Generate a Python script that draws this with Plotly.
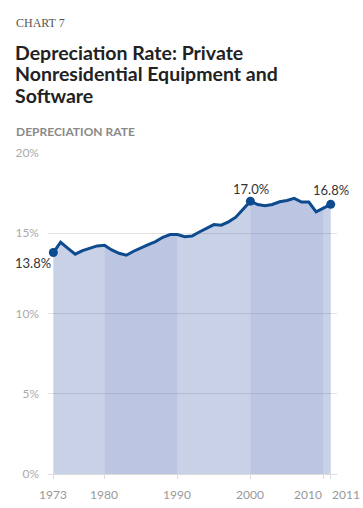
import plotly.graph_objects as go

years = list(range(1973, 2012))
rates = [13.8, 14.44, 14.06, 13.7, 13.92, 14.06, 14.21, 14.25, 13.96, 13.75,
         13.63, 13.88, 14.1, 14.29, 14.48, 14.75, 14.92, 14.92, 14.79, 14.83,
         15.08, 15.33, 15.54, 15.5, 15.71, 16.0, 16.5, 17.0, 16.79, 16.71,
         16.79, 16.96, 17.04, 17.17, 16.94, 16.94, 16.33, 16.56, 16.8]
band_edges = [1973, 1980, 1990, 2000, 2010, 2011]
x_tick_vals = [1973, 1980, 1990, 2000, 2010, 2011]
x_tick_text = ["1973", "1980", "1990", "2000", "2010", "2011"]
y_tick_vals = [0, 5, 10, 15, 20]
y_tick_text = ["0%", "5%", "10%", "15%", "20%"]
labeled_years = [1973, 2000, 2011]

W, H = 363, 508
L, R, T, B = 48, 26, 153, 34
PW, PH = W - L - R, H - T - B

def px(x):
    return (x - L) / PW

def py(y):
    return (H - B - y) / PH

light = "rgba(40,70,160,0.25)"
dark = "rgba(40,70,160,0.31)"
line_col = "#0d4b8e"

fig = go.Figure()
for i in range(len(band_edges) - 1):
    a, b = band_edges[i], band_edges[i + 1]
    xs = [y for y in years if a <= y <= b]
    ys = [rates[years.index(y)] for y in xs]
    fig.add_trace(go.Scatter(x=xs, y=ys, mode="lines", line=dict(width=0),
                             fill="tozeroy", fillcolor=light if i % 2 == 0 else dark,
                             hoverinfo="skip", showlegend=False))

fig.add_trace(go.Scatter(x=years, y=rates, mode="lines",
                         line=dict(color=line_col, width=3), showlegend=False))
mx = labeled_years
my = [rates[years.index(y)] for y in mx]
fig.add_trace(go.Scatter(x=mx, y=my, mode="markers",
                         marker=dict(color=line_col, size=9), showlegend=False))

ann = []
ann.append(dict(x=px(14), y=py(23), xref="paper", yref="paper", xanchor="left", yanchor="middle",
                text="CHART 7", showarrow=False,
                font=dict(family="Liberation Serif", size=12, color="#555")))
for txt, cy in [("Depreciation Rate: Private", 52), ("Nonresidential Equipment and", 73.5), ("Software", 95)]:
    ann.append(dict(x=px(13), y=py(cy), xref="paper", yref="paper", xanchor="left", yanchor="middle",
                    text="<b>" + txt + "</b>", showarrow=False,
                    font=dict(family="Lato", size=19.5, color="#222")))
ann.append(dict(x=px(14), y=py(131), xref="paper", yref="paper", xanchor="left", yanchor="middle",
                text="<b>DEPRECIATION RATE</b>", showarrow=False,
                font=dict(family="Lato", size=12, color="#8a8a8a")))
# value labels
ann.append(dict(x=mx[0], y=my[0], xref="x", yref="y", text=f"{my[0]:.1f}%", showarrow=False,
                xshift=-20, yshift=-10, font=dict(family="Lato", size=13, color="#333")))
ann.append(dict(x=mx[1], y=my[1], xref="x", yref="y", text=f"{my[1]:.1f}%", showarrow=False,
                xshift=1, yshift=12, font=dict(family="Lato", size=13, color="#333")))
ann.append(dict(x=mx[2], y=my[2], xref="x", yref="y", text=f"{my[2]:.1f}%", showarrow=False,
                xshift=0, yshift=14, font=dict(family="Lato", size=13, color="#333")))
# x tick labels (last two pushed apart as in the original)
anchors = ["center"] * (len(x_tick_vals) - 2) + ["right", "left"]
shifts = [0] * (len(x_tick_vals) - 2) + [1, -1]
for v, t, a, s in zip(x_tick_vals, x_tick_text, anchors, shifts):
    ann.append(dict(x=v, y=py(494), xref="x", yref="paper", xanchor=a, yanchor="middle",
                    xshift=s, text=t, showarrow=False,
                    font=dict(family="Lato", size=12, color="#999")))

fig.update_layout(
    width=W, height=H,
    margin=dict(l=L, r=R, t=T, b=B, autoexpand=False),
    paper_bgcolor="white", plot_bgcolor="white",
    annotations=ann,
    xaxis=dict(range=[1972.27, 2011.86], tickvals=x_tick_vals, showticklabels=False,
               showgrid=False, zeroline=False, showline=True, linecolor="#dcdcdc", linewidth=1,
               ticks="outside", ticklen=4, tickcolor="#dcdcdc", automargin=False),
    yaxis=dict(range=[0, 20], tickvals=y_tick_vals, ticktext=y_tick_text,
               showgrid=True, gridcolor="#e2e2e2", gridwidth=1, zeroline=False,
               ticklabelstandoff=8, automargin=False,
               tickfont=dict(family="Lato", size=12, color="#aaa")),
)

# remove the page's default 8px body margin so the figure fills the window exactly
fig.write_html("out.html",
               config={"displayModeBar": False},
               post_script="document.body.style.margin='0';document.body.style.overflow='hidden';")
